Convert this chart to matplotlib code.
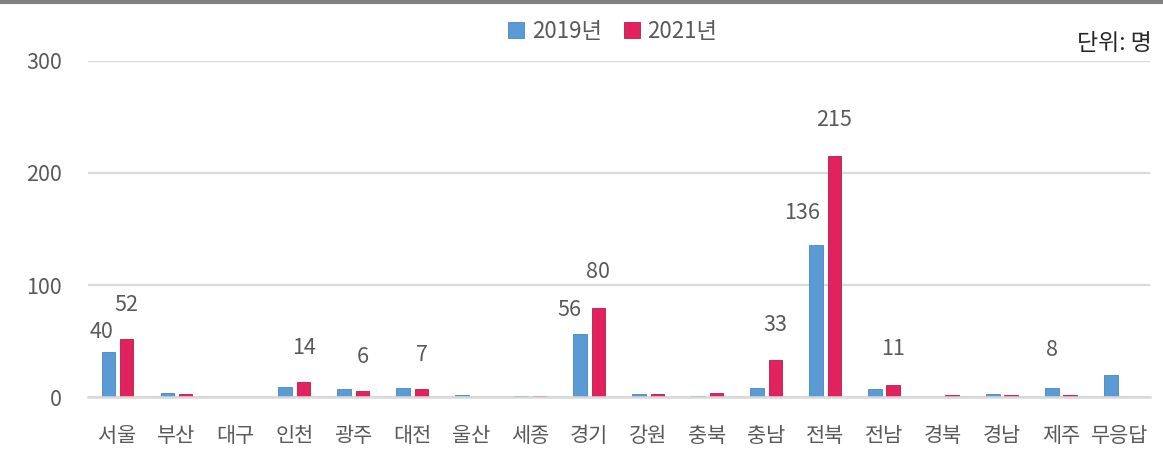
import matplotlib
matplotlib.use("Agg")
import numpy as np
import matplotlib.pyplot as plt
from matplotlib.lines import Line2D

regions = ['서울', '부산', '대구', '인천', '광주', '대전', '울산', '세종', '경기',
           '강원', '충북', '충남', '전북', '전남', '경북', '경남', '제주', '무응답']
count_2019 = [40, 4, 0, 9, 7, 8, 2, 1, 56, 3, 1, 8, 136, 7, 0, 3, 8, 20]
count_2021 = [52, 3, 0, 14, 6, 7, 0, 1, 80, 3, 4, 33, 215, 11, 2, 2, 2, 0]

# which bars get a value label, and where the label sits (pixels from bar top)
label_2019 = {'서울': (-7, 20), '경기': (-11, 24), '전북': (-14, 32), '제주': (0, 38)}
label_2021 = {'서울': (0, 34), '인천': (0, 34), '광주': (0, 34), '대전': (0, 34),
              '경기': (0, 36), '충남': (0, 35), '전북': (0, 36), '전남': (0, 36)}

BLUE = '#5B9BD5'
RED = '#E2215F'
GRAY_TXT = '#595959'
GRID = '#D9D9D9'

plt.rcParams['font.family'] = ['Noto Sans CJK KR', 'DejaVu Sans']

fig = plt.figure(figsize=(11.63, 4.55), dpi=100)
ax = fig.add_axes([88 / 1163, 1 - 397.3 / 455, (1149.5 - 88) / 1163, (397.3 - 60.7) / 455])

x = np.arange(len(regions))
w = 0.23
off = 0.155
b1 = ax.bar(x - off, count_2019, w, color=BLUE, edgecolor='#4A86BE', linewidth=0.6,
            label='2019년', zorder=3)
b2 = ax.bar(x + off, count_2021, w, color=RED, edgecolor='#B81A4C', linewidth=0.6,
            label='2021년', zorder=3)

for i, name in enumerate(regions):
    if name in label_2019:
        dx, dy = label_2019[name]
        ax.annotate(str(count_2019[i]), (x[i] - off, count_2019[i]), xytext=(dx, dy),
                    textcoords='offset pixels', ha='center', va='center',
                    fontsize=15.5, color=GRAY_TXT)
    if name in label_2021:
        dx, dy = label_2021[name]
        ax.annotate(str(count_2021[i]), (x[i] + off, count_2021[i]), xytext=(dx, dy),
                    textcoords='offset pixels', ha='center', va='center',
                    fontsize=15.5, color=GRAY_TXT)

ax.set_xlim(-0.5, len(regions) - 0.5)
ax.set_ylim(0, 300)
ax.set_yticks([0, 100, 200, 300])
ax.yaxis.grid(True, color=GRID, linewidth=1.6, zorder=0)
ax.set_xticks(x)
ax.set_xticklabels(regions)
ax.tick_params(axis='both', length=0, labelcolor=GRAY_TXT)
ax.tick_params(axis='y', pad=19, labelsize=15.5)
ax.tick_params(axis='x', pad=20, labelsize=15)
for s in ['top', 'right', 'left']:
    ax.spines[s].set_visible(False)
ax.spines['bottom'].set_color(GRID)
ax.spines['bottom'].set_linewidth(1.8)
ax.spines['bottom'].set_zorder(4)

leg = fig.legend(handles=[b1, b2], loc='center', bbox_to_anchor=(0.527, 1 - 31 / 455),
                 ncol=2, frameon=False, fontsize=16, handlelength=0.7, handleheight=0.7,
                 handletextpad=0.35, columnspacing=1.0)
for t in leg.get_texts():
    t.set_color(GRAY_TXT)

fig.text(1152 / 1163, 1 - 44 / 455, '단위: 명', ha='right', va='center',
         fontsize=16.5, color='#262626')

# thin dark rule along the top edge
fig.add_artist(Line2D([0, 1], [1 - 1.5 / 455, 1 - 1.5 / 455], transform=fig.transFigure,
                      color='#808080', linewidth=3))

fig.savefig('out.png', dpi=100)
